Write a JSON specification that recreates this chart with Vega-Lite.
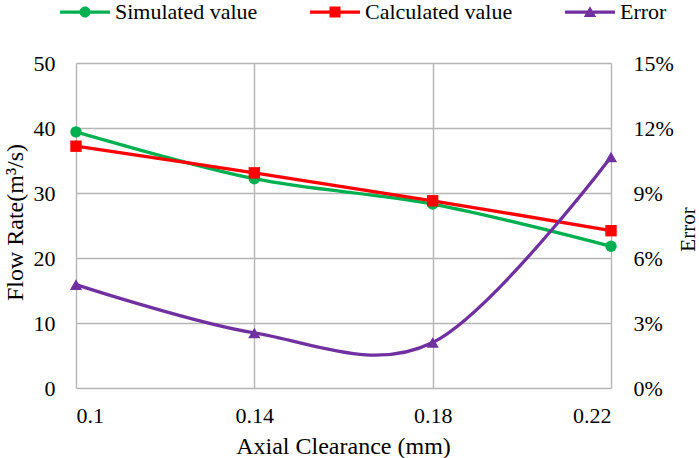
{
  "$schema": "https://vega.github.io/schema/vega-lite/v6.json",
  "width": 535,
  "height": 325,
  "autosize": {"type": "none"},
  "padding": {"left": 76, "top": 63, "right": 88, "bottom": 70},
  "background": "white",
  "config": {
    "view": {"stroke": null},
    "font": "Liberation Serif",
    "axis": {
      "labelFont": "Liberation Serif",
      "titleFont": "Liberation Serif",
      "labelFontSize": 22,
      "titleFontSize": 24,
      "labelColor": "#000000",
      "titleColor": "#000000",
      "titleFontWeight": "normal",
      "ticks": false,
      "domain": false,
      "gridColor": "#b5b5b5",
      "gridWidth": 1.4
    },
    "legend": {
      "labelFont": "Liberation Serif",
      "labelFontSize": 22,
      "labelColor": "#000000",
      "padding": 0
    }
  },
  "data": {
    "values": [
      {"clearance": 0.1, "series": "Simulated value", "value": 39.4},
      {"clearance": 0.14, "series": "Simulated value", "value": 32.2},
      {"clearance": 0.18, "series": "Simulated value", "value": 28.3},
      {"clearance": 0.22, "series": "Simulated value", "value": 21.8},
      {"clearance": 0.1, "series": "Calculated value", "value": 37.2},
      {"clearance": 0.14, "series": "Calculated value", "value": 33.1},
      {"clearance": 0.18, "series": "Calculated value", "value": 28.8},
      {"clearance": 0.22, "series": "Calculated value", "value": 24.2},
      {"clearance": 0.1, "series": "Error", "value": 0.0477},
      {"clearance": 0.14, "series": "Error", "value": 0.0254},
      {"clearance": 0.18, "series": "Error", "value": 0.021},
      {"clearance": 0.22, "series": "Error", "value": 0.1066}
    ]
  },
  "encoding": {
    "x": {
      "field": "clearance",
      "type": "quantitative",
      "scale": {"domain": [0.1, 0.22], "nice": false, "zero": false},
      "axis": {
        "values": [0.1, 0.14, 0.18, 0.22],
        "format": ".2~f",
        "grid": true,
        "labelPadding": 17,
        "title": "Axial Clearance (mm)",
        "titleBaseline": "alphabetic",
        "titleX": 267,
        "titleY": 65
      }
    },
    "color": {
      "field": "series",
      "type": "nominal",
      "scale": {
        "domain": ["Simulated value", "Calculated value", "Error"],
        "range": ["#00b050", "#ff0000", "#7030a0"]
      },
      "legend": {
        "title": null,
        "orient": "none",
        "direction": "horizontal",
        "legendX": -16,
        "legendY": -76,
        "symbolSize": 2500,
        "symbolStrokeWidth": 0,
        "symbolOpacity": 1,
        "labelOffset": 5,
        "columnPadding": 52
      }
    }
  },
  "layer": [
    {
      "transform": [{"filter": "false"}],
      "mark": {"type": "point", "filled": true, "opacity": 1},
      "encoding": {
        "shape": {
          "field": "series",
          "type": "nominal",
          "scale": {
            "domain": ["Simulated value", "Calculated value", "Error"],
            "range": [
              "M-1,-0.065H1V0.065H-1Z M0.22,0A0.22,0.22 0 1,1 -0.22,0A0.22,0.22 0 1,1 0.22,0Z",
              "M-1,-0.065H1V0.065H-1Z M-0.22,-0.22H0.22V0.22H-0.22Z",
              "M-1,-0.065H1V0.065H-1Z M0,-0.23L0.25,0.2H-0.25Z"
            ]
          }
        }
      }
    },
    {
      "transform": [{"filter": "datum.series !== 'Error'"}],
      "encoding": {
        "y": {
          "field": "value",
          "type": "quantitative",
          "scale": {"domain": [0, 50], "nice": false},
          "axis": {
            "values": [0, 10, 20, 30, 40, 50],
            "grid": true,
            "labelPadding": 21,
            "labelDy": 3,
            "title": "Flow Rate(m³/s)",
            "titleAngle": 270,
            "titleBaseline": "alphabetic",
            "titleX": -54,
            "titleY": 159
          }
        }
      },
      "layer": [
        {
          "mark": {"type": "line", "interpolate": "cardinal", "strokeWidth": 3.3},
          "encoding": {}
        },
        {
          "transform": [{"filter": "datum.series === 'Simulated value'"}],
          "mark": {"type": "point", "shape": "circle", "filled": true, "opacity": 1, "size": 130},
          "encoding": {}
        },
        {
          "transform": [{"filter": "datum.series === 'Calculated value'"}],
          "mark": {"type": "point", "shape": "square", "filled": true, "opacity": 1, "size": 130},
          "encoding": {}
        }
      ]
    },
    {
      "transform": [{"filter": "datum.series === 'Error'"}],
      "encoding": {
        "y": {
          "field": "value",
          "type": "quantitative",
          "scale": {"domain": [0, 0.15], "nice": false},
          "axis": {
            "orient": "right",
            "values": [0, 0.03, 0.06, 0.09, 0.12, 0.15],
            "format": ".0%",
            "grid": false,
            "labelPadding": 22,
            "labelDy": 3,
            "title": "Error",
            "titleFontSize": 21,
            "titleAngle": 270,
            "titleBaseline": "alphabetic",
            "titleX": 83,
            "titleY": 166
          }
        }
      },
      "layer": [
        {
          "mark": {"type": "line", "interpolate": "cardinal", "strokeWidth": 3.3},
          "encoding": {}
        },
        {
          "mark": {"type": "point", "shape": "triangle-up", "filled": true, "opacity": 1, "size": 150},
          "encoding": {}
        }
      ]
    }
  ],
  "resolve": {"scale": {"y": "independent"}}
}
